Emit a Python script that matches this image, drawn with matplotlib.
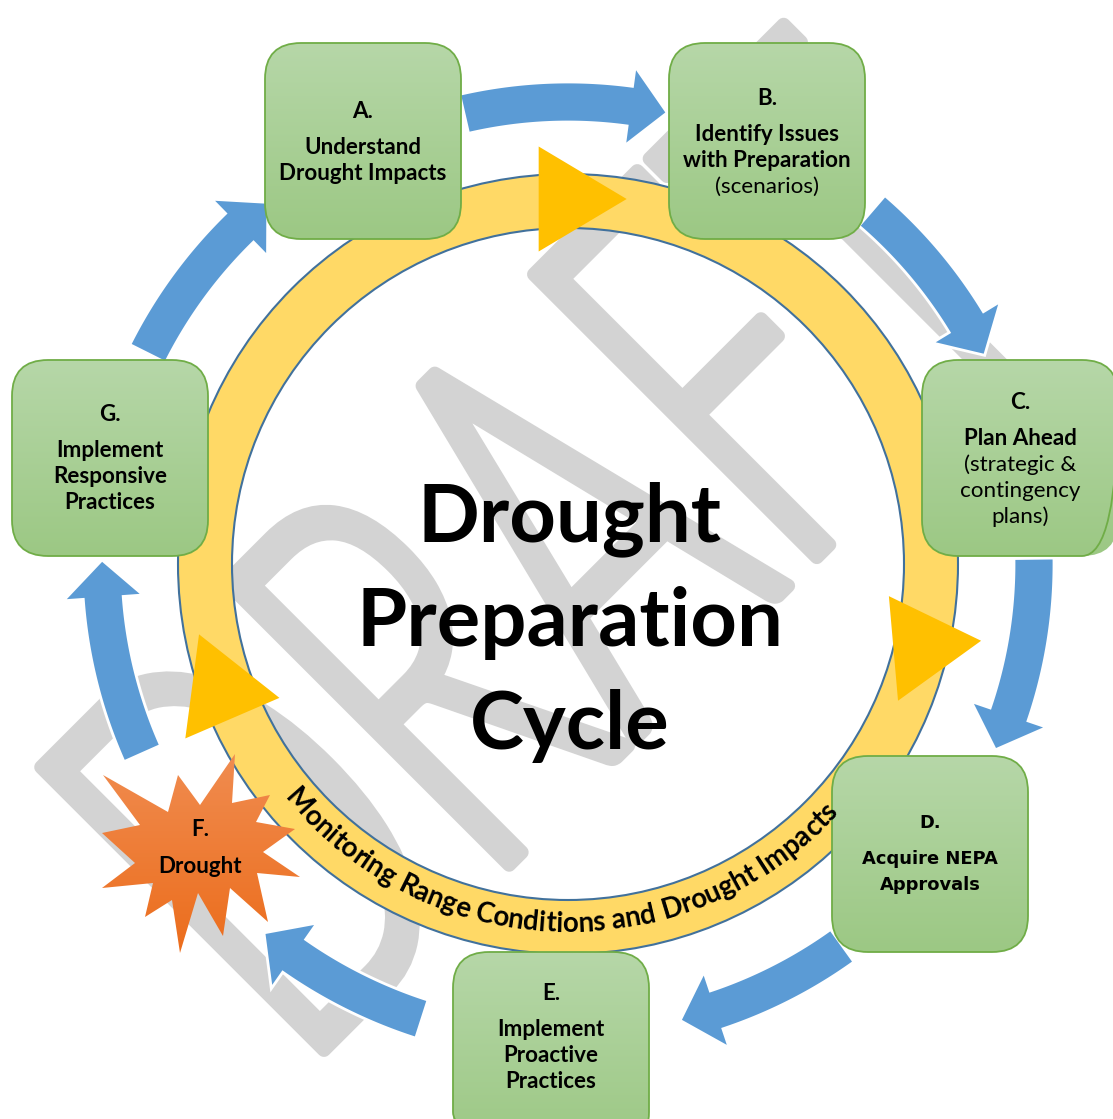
import numpy as np
import matplotlib
matplotlib.use("Agg")
import matplotlib.pyplot as plt
from matplotlib.patches import FancyBboxPatch, Polygon, PathPatch, Wedge, Circle
from matplotlib.path import Path
from matplotlib.textpath import TextPath
from matplotlib.font_manager import FontProperties, findfont
from matplotlib.colors import to_rgb

# canvas in pixel units, y grows downwards
W, H = 1113, 1119
CX, CY = 568, 564

ring_outer = 390
ring_inner = 336
ring_label = "Monitoring Range Conditions and Drought Impacts"

title_lines = ["Drought", "Preparation", "Cycle"]
title_baselines = [541, 646, 749]

box_labels = ["A.", "B.", "C.", "D.", "E.", "G."]
box_left = [265, 669, 922, 832, 453, 12]
box_top = [43, 43, 360, 756, 952, 360]
box_label_y = [110, 97, 401, 822, 992, 413]
box_text = [
    ["Understand", "Drought Impacts"],
    ["Identify Issues", "with Preparation", "(scenarios)"],
    ["Plan Ahead", "(strategic &", "contingency", "plans)"],
    ["Acquire NEPA", "Approvals"],
    ["Implement", "Proactive", "Practices"],
    ["Implement", "Responsive", "Practices"],
]
box_weight = [
    ["bold", "bold"],
    ["bold", "bold", "normal"],
    ["bold", "normal", "normal", "normal"],
    ["bold", "bold"],
    ["bold", "bold", "bold"],
    ["bold", "bold", "bold"],
]

burst_label = ["F.", "Drought"]
burst_label_y = [828, 865]
burst_x = [235, 232, 270, 256, 295, 263, 300, 257, 268, 230, 223, 198,
           180, 172, 145, 153, 102, 135, 102, 140, 103, 168, 178, 200]
burst_y = [754, 803, 795, 822, 829, 852, 877, 873, 922, 888, 936, 893,
           953, 900, 917, 883, 888, 863, 833, 825, 775, 812, 775, 805]

# curved arrows: start / end angle (deg) and radius around the ring centre
arrow_from = [103, 49.3, 0.7, -54.3, -107.8, -156, 153.4]
arrow_to = [77.6, 26.6, -23.5, -76.2, -129.5, -180.5, 129.7]
arrow_rad = [462, 466, 466, 470, 478, 466, 470]

# gold triangles sitting on the ring
tri_at = [90, -13, -160]
tri_rad = [365, 364, 369]
tri_point = [0, 5, -7.5]

watermark = "DRAFT"

GREEN_TOP, GREEN_BOT, GREEN_EDGE = "#b6d7a8", "#9cc884", "#70ad47"
BLUE = "#5b9bd5"
GOLD = "#ffc000"
RING = "#ffd966"
RING_EDGE = "#41719c"
GREY = "#d3d3d3"


def pick_light():
    for fam in ["Lato", "Roboto", "Open Sans", "Noto Sans"]:
        fp = FontProperties(family=fam, weight=300)
        try:
            f = findfont(fp, fallback_to_default=False)
        except Exception:
            continue
        if "light" in f.lower() or "thin" in f.lower():
            return fp
    return FontProperties(family="DejaVu Sans")


def fit_pt(s, fp, target_px):
    w = TextPath((0, 0), s, size=100, prop=fp).get_extents().width
    return 100 * target_px / w * 0.72


def polar(r, t):
    t = np.radians(t)
    return CX + r * np.cos(t), CY - r * np.sin(t)


def gradient_fill(ax, patch, x0, y0, x1, y1, top, bottom, z):
    t = np.linspace(0, 1, 64)[:, None]
    c = (1 - t) * np.array(to_rgb(top)) + t * np.array(to_rgb(bottom))
    img = ax.imshow(c[:, None, :], extent=(x0, x1, y1, y0), aspect="auto",
                    interpolation="bilinear", zorder=z)
    img.set_clip_path(patch)


def arrow_pts(t0, t1, r, w=20, hw=40, hl=38):
    sgn = np.sign(t1 - t0)
    tb = t1 - sgn * np.degrees(hl / r)
    ts = np.linspace(t0, tb, 50)
    outer = np.array([polar(r + w, t) for t in ts])
    inner = np.array([polar(r - w, t) for t in ts])[::-1]
    head = np.array([polar(r + hw, tb), polar(r, t1), polar(r - hw, tb)])
    return np.vstack([outer, head, inner])


def main():
    fig = plt.figure(figsize=(W / 100, H / 100), dpi=100)
    ax = fig.add_axes([0, 0, 1, 1])
    ax.set_xlim(0, W)
    ax.set_ylim(H, 0)
    ax.set_autoscale_on(False)
    ax.axis("off")

    # watermark, squeezed into its diagonal box
    tp = TextPath((0, 0), watermark, size=100, prop=pick_light())
    ext = tp.get_extents()
    u = (tp.vertices[:, 0] - ext.x0) / ext.width * 1050
    v = (tp.vertices[:, 1] - ext.y0) / ext.height * 400
    c = np.sqrt(0.5)
    wm = Path(np.c_[324 + c * u - c * v, 1050 - c * u - c * v], tp.codes)
    ax.add_patch(PathPatch(wm, fc=GREY, ec=GREY, lw=10, joinstyle="round", zorder=1))

    # ring
    ax.add_patch(Wedge((CX, CY), ring_outer, 0, 360, width=ring_outer - ring_inner,
                       fc=RING, ec="none", zorder=2))
    for r in (ring_outer, ring_inner):
        ax.add_patch(Circle((CX, CY), r, fill=False, ec=RING_EDGE, lw=1.5, zorder=2.1))

    # triangles
    for at, rr, pt in zip(tri_at, tri_rad, tri_point):
        cx, cy = polar(rr, at)
        d = np.array([np.cos(np.radians(pt)), -np.sin(np.radians(pt))])
        n = np.array([-d[1], d[0]])
        h, b = 88, 105
        ctr = np.array([cx, cy])
        pts = [ctr + d * h * 2 / 3, ctr - d * h / 3 + n * b / 2, ctr - d * h / 3 - n * b / 2]
        ax.add_patch(Polygon(pts, closed=True, fc=GOLD, ec="none", zorder=3))

    # curved text along the bottom of the ring
    fp_ring = FontProperties(family="Lato", weight="bold")
    ring_pt = fit_pt(ring_label, fp_ring, 605) * 1.03
    px = ring_pt / 0.72
    full = TextPath((0, 0), ring_label, size=px, prop=fp_ring).get_extents()
    squeeze = 606 / full.width
    L = full.width * squeeze
    r_mid, r_base = 356, 368
    mid_angle = -91.5
    for i, ch in enumerate(ring_label):
        if ch == " ":
            continue
        right = TextPath((0, 0), ring_label[:i + 1], size=px, prop=fp_ring).get_extents().x1
        cw = TextPath((0, 0), ch, size=px, prop=fp_ring).get_extents().width
        p = (right - cw / 2 - full.x0) * squeeze
        th = mid_angle - np.degrees((L / 2 - p) / r_mid)
        x, y = polar(r_base, th)
        ax.text(x, y, ch, ha="center", va="baseline", rotation=th + 90,
                rotation_mode="anchor", fontproperties=fp_ring, fontsize=ring_pt, zorder=5.5)

    # blue arrows
    for t0, t1, r in zip(arrow_from, arrow_to, arrow_rad):
        ax.add_patch(Polygon(arrow_pts(t0, t1, r), closed=True, fc=BLUE, ec="white",
                             lw=2, joinstyle="miter", zorder=4))

    # green boxes
    fp_bold = FontProperties(family="Lato", weight="bold")
    fp_norm = FontProperties(family="Lato", weight="normal")
    fp_wide = FontProperties(family="DejaVu Sans", weight="bold")
    box_pt = fit_pt("Drought Impacts", fp_bold, 165)
    wide_pt = fit_pt("Acquire NEPA", fp_wide, 136)
    for k in range(len(box_labels)):
        x0, y0 = box_left[k], box_top[k]
        patch = FancyBboxPatch((x0, y0), 196, 196, boxstyle="round,pad=0,rounding_size=36",
                               fc="none", ec=GREEN_EDGE, lw=1.3, zorder=5.1)
        ax.add_patch(patch)
        gradient_fill(ax, patch, x0, y0, x0 + 196, y0 + 196, GREEN_TOP, GREEN_BOT, 5)
        xc = x0 + 98
        size = wide_pt if box_labels[k] == "D." else box_pt
        cap = size
        ly = box_label_y[k]
        lab_fp = fp_wide if box_labels[k] == "D." else fp_bold
        ax.text(xc, ly + cap / 2, box_labels[k], ha="center", va="baseline",
                fontproperties=lab_fp, fontsize=size, zorder=6)
        yy = ly + 36
        for line, wt in zip(box_text[k], box_weight[k]):
            if box_labels[k] == "D.":
                f = fp_wide
            else:
                f = fp_bold if wt == "bold" else fp_norm
            ax.text(xc, yy + cap / 2, line, ha="center", va="baseline",
                    fontproperties=f, fontsize=size, zorder=6)
            yy += 26

    # drought starburst
    star = Polygon(np.c_[burst_x, burst_y], closed=True, fc="none", ec="none", zorder=5.1)
    ax.add_patch(star)
    gradient_fill(ax, star, min(burst_x), min(burst_y), max(burst_x), max(burst_y),
                  "#f08c50", "#ec6d1c", 5)
    for s, y in zip(burst_label, burst_label_y):
        ax.text(200, y + box_pt / 2, s, ha="center", va="baseline",
                fontproperties=fp_bold, fontsize=box_pt, zorder=6)

    # centre title
    title_pt = fit_pt("Preparation", fp_bold, 416)
    for s, y in zip(title_lines, title_baselines):
        ax.text(570, y, s, ha="center", va="baseline", fontproperties=fp_bold,
                fontsize=title_pt, zorder=6)

    fig.savefig("out.png", dpi=100)


if __name__ == "__main__":
    main()
